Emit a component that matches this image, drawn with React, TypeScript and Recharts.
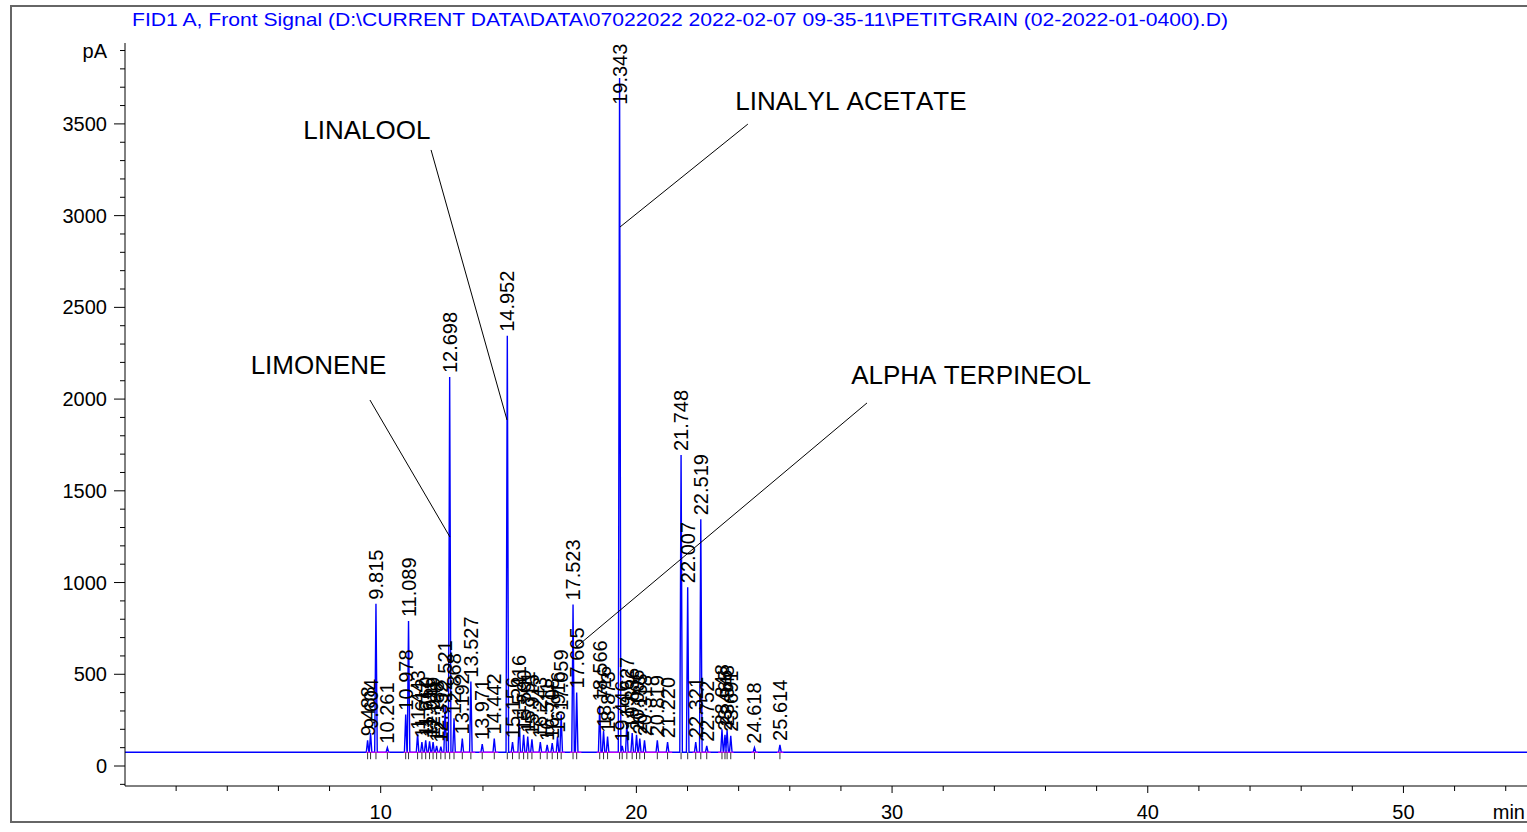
import React from 'react';
import { ComposedChart, Line, Scatter, XAxis, YAxis, ReferenceLine } from 'recharts';

const TITLE =
  'FID1 A, Front Signal (D:\\CURRENT DATA\\DATA\\07022022 2022-02-07 09-35-11\\PETITGRAIN (02-2022-01-0400).D)';

const FONT = '"Liberation Sans", Arial, sans-serif';

// baseline signal level (pA)
const BASELINE = 75;

// retention times (min) of the integrated peaks
const PEAK_RT = [
  9.488, 9.604, 9.815, 10.261, 10.978, 11.089, 11.443, 11.612, 11.76, 11.911, 12.049, 12.188,
  12.352, 12.521, 12.698, 12.868, 13.192, 13.527, 13.971, 14.442, 14.952, 15.156, 15.416,
  15.59, 15.751, 15.915, 16.243, 16.511, 16.708, 16.916, 17.059, 17.523, 17.665, 18.566,
  18.716, 18.873, 19.343, 19.446, 19.627, 19.836, 20.006, 20.133, 20.318, 20.819, 21.22,
  21.748, 22.007, 22.321, 22.519, 22.752, 23.348, 23.465, 23.548, 23.691, 24.618, 25.614,
];

// apex signal (pA) of each peak
const PEAK_PA = [
  140, 180, 885, 100, 280, 790, 175, 130, 140, 135, 130, 110,
  105, 330, 2120, 260, 150, 460, 120, 150, 2345, 130, 250,
  170, 160, 145, 130, 115, 125, 160, 280, 880, 400, 330,
  190, 160, 3750, 110, 240, 180, 170, 150, 140, 140, 130,
  1695, 975, 130, 1345, 110, 200, 170, 195, 165, 100, 115,
];

// printed retention-time labels
const PEAK_LABELS = [
  '9.488', '9.604', '9.815', '10.261', '10.978', '11.089', '11.443', '11.612', '11.760', '11.911', '12.049', '12.188',
  '12.352', '12.521', '12.698', '12.868', '13.192', '13.527', '13.971', '14.442', '14.952', '15.156', '15.416',
  '15.590', '15.751', '15.915', '16.243', '16.511', '16.708', '16.916', '17.059', '17.523', '17.665', '18.566',
  '18.716', '18.873', '19.343', '19.446', '19.627', '19.836', '20.006', '20.133', '20.318', '20.819', '21.220',
  '21.748', '22.007', '22.321', '22.519', '22.752', '23.348', '23.465', '23.548', '23.691', '24.618', '25.614',
];

// integration baseline segments (min)
const INTEGRATION_START = [9.42, 10.9, 12.45, 13.85, 15.05, 17.4, 18.45, 22.2, 23.2, 24.5, 25.5];
const INTEGRATION_END = [10.35, 12.45, 13.7, 14.6, 17.2, 17.85, 21.4, 22.9, 23.8, 24.75, 25.75];

// compound annotations (data coordinates)
const ANNOT_TEXT = ['LIMONENE', 'LINALOOL', 'LINALYL ACETATE', 'ALPHA TERPINEOL'];
const ANNOT_T = [7.57, 9.46, 28.39, 33.09];
const ANNOT_V = [2186, 3467, 3625, 2131];
const LEADER_T1 = [9.58, 11.97, 24.36, 29.02];
const LEADER_V1 = [1995, 3358, 3499, 1979];
const LEADER_T2 = [12.71, 14.94, 19.36, 17.6];
const LEADER_V2 = [1248, 1886, 2938, 643];

const Y_TICKS = [
  -100, 0, 100, 200, 300, 400, 500, 600, 700, 800, 900, 1000, 1100, 1200, 1300, 1400, 1500,
  1600, 1700, 1800, 1900, 2000, 2100, 2200, 2300, 2400, 2500, 2600, 2700, 2800, 2900, 3000,
  3100, 3200, 3300, 3400, 3500, 3600, 3700, 3800, 3900,
];
const X_TICKS = [2, 4, 6, 8, 10, 12, 14, 16, 18, 20, 22, 24, 26, 28, 30, 32, 34, 36, 38, 40, 42, 44, 46, 48, 50, 52, 54, 56];

const X_DOMAIN = [0, 58];
const Y_DOMAIN = [-109, 3941];
const PEAK_HALF_WIDTH = 0.05;
const PLOT_TOP = 43;

const trace: { t: number; v: number }[] = [{ t: 0, v: BASELINE }];
PEAK_RT.forEach((rt, i) => {
  trace.push({ t: rt - PEAK_HALF_WIDTH, v: BASELINE });
  trace.push({ t: rt, v: PEAK_PA[i] });
  trace.push({ t: rt + PEAK_HALF_WIDTH, v: BASELINE });
});
trace.push({ t: X_DOMAIN[1], v: BASELINE });

const peaks = PEAK_RT.map((rt, i) => ({ t: rt, v: PEAK_PA[i], label: PEAK_LABELS[i] }));
const peakMarks = PEAK_RT.map((rt) => ({ t: rt, v: BASELINE }));
const annotations = ANNOT_TEXT.map((text, i) => ({ t: ANNOT_T[i], v: ANNOT_V[i], text }));

const YTick = (props: any) => {
  const { x, y, payload } = props;
  const v = payload.value;
  const major = v % 500 === 0 && v >= 0;
  return (
    <g>
      <line x1={x} x2={x - (major ? 11 : 5)} y1={y} y2={y} stroke="#000" strokeWidth={1} />
      {major && (
        <text x={x - 18} y={y} textAnchor="end" dominantBaseline="central" fontSize={20} fontFamily={FONT} fill="#000">
          {v}
        </text>
      )}
      {v === 3900 && (
        <text x={x - 18} y={y} textAnchor="end" dominantBaseline="central" fontSize={20} fontFamily={FONT} fill="#000">
          pA
        </text>
      )}
    </g>
  );
};

const XTick = (props: any) => {
  const { x, y, payload } = props;
  const v = payload.value;
  const major = v % 10 === 0;
  return (
    <g>
      <line x1={x} x2={x} y1={y} y2={y + (major ? 7 : 5)} stroke="#000" strokeWidth={1} />
      {major && (
        <text x={x} y={y + 26} textAnchor="middle" dominantBaseline="central" fontSize={20} fontFamily={FONT} fill="#000">
          {v}
        </text>
      )}
      {v === 54 && (
        <text x={1525} y={y + 26} textAnchor="end" dominantBaseline="central" fontSize={20} fontFamily={FONT} fill="#000">
          min
        </text>
      )}
    </g>
  );
};

const PeakLabel = (props: any) => {
  const { cx, cy, payload } = props;
  if (cx == null || cy == null) return null;
  const len = payload.label.length * 10.3;
  let y = cy - 4;
  if (y - len < PLOT_TOP) y = PLOT_TOP + len;
  return (
    <text
      x={cx}
      y={y}
      transform={`rotate(-90 ${cx} ${y})`}
      textAnchor="start"
      dominantBaseline="central"
      fontSize={20}
      fontFamily={FONT}
      fill="#000"
    >
      {payload.label}
    </text>
  );
};

const PeakMark = (props: any) => {
  const { cx, cy } = props;
  if (cx == null || cy == null) return null;
  return <line x1={cx} x2={cx} y1={cy} y2={cy + 7} stroke="#333" strokeWidth={1} />;
};

const AnnotText = (props: any) => {
  const { cx, cy, payload } = props;
  if (cx == null || cy == null) return null;
  return (
    <text
      x={cx}
      y={cy}
      textAnchor="middle"
      dominantBaseline="central"
      fontSize={26}
      fontFamily={FONT}
      fill="#000"
      style={{ fontKerning: 'none' }}
    >
      {payload.text}
    </text>
  );
};

export default function App() {
  return (
    <div style={{ position: 'fixed', left: 0, top: 0, width: 1527, height: 832, overflow: 'hidden', background: '#fff' }}>
      <svg width={1527} height={832} style={{ position: 'absolute', left: 0, top: 0 }}>
        <rect x={11} y={6} width={1540} height={816} fill="none" stroke="#666" strokeWidth={2} />
        <text
          x={132}
          y={19}
          dominantBaseline="central"
          fontSize={19}
          fontFamily={FONT}
          fill="#0000ff"
          textLength={1096}
          lengthAdjust="spacingAndGlyphs"
        >
          {TITLE}
        </text>
      </svg>
      <div style={{ position: 'absolute', left: 0, top: 0 }}>
        <ComposedChart width={1608} height={832} margin={{ top: PLOT_TOP, right: 0, bottom: 0, left: 0 }}>
          <XAxis
            type="number"
            dataKey="t"
            domain={X_DOMAIN}
            ticks={X_TICKS}
            interval={0}
            allowDataOverflow
            height={46}
            tickSize={0}
            tickMargin={0}
            tickLine={false}
            axisLine={{ stroke: '#000', strokeWidth: 1 }}
            tick={<XTick />}
          />
          <YAxis
            type="number"
            dataKey="v"
            domain={Y_DOMAIN}
            ticks={Y_TICKS}
            interval={0}
            allowDataOverflow
            width={125}
            tickSize={0}
            tickMargin={0}
            tickLine={false}
            axisLine={{ stroke: '#000', strokeWidth: 1 }}
            tick={<YTick />}
          />
          <Line
            data={trace}
            dataKey="v"
            type="linear"
            stroke="#0000ff"
            strokeWidth={1.4}
            dot={false}
            activeDot={false}
            isAnimationActive={false}
          />
          {INTEGRATION_START.map((s, i) => (
            <ReferenceLine
              key={'int' + i}
              segment={[
                { x: s, y: BASELINE },
                { x: INTEGRATION_END[i], y: BASELINE },
              ]}
              stroke="#ff00ff"
              strokeWidth={1}
              ifOverflow="visible"
            />
          ))}
          {ANNOT_TEXT.map((_, i) => (
            <ReferenceLine
              key={'lead' + i}
              segment={[
                { x: LEADER_T1[i], y: LEADER_V1[i] },
                { x: LEADER_T2[i], y: LEADER_V2[i] },
              ]}
              stroke="#000"
              strokeWidth={1}
              ifOverflow="visible"
            />
          ))}
          <Scatter data={peakMarks} dataKey="v" shape={<PeakMark />} isAnimationActive={false} />
          <Scatter data={peaks} dataKey="v" shape={<PeakLabel />} isAnimationActive={false} />
          <Scatter data={annotations} dataKey="v" shape={<AnnotText />} isAnimationActive={false} />
        </ComposedChart>
      </div>
    </div>
  );
}
